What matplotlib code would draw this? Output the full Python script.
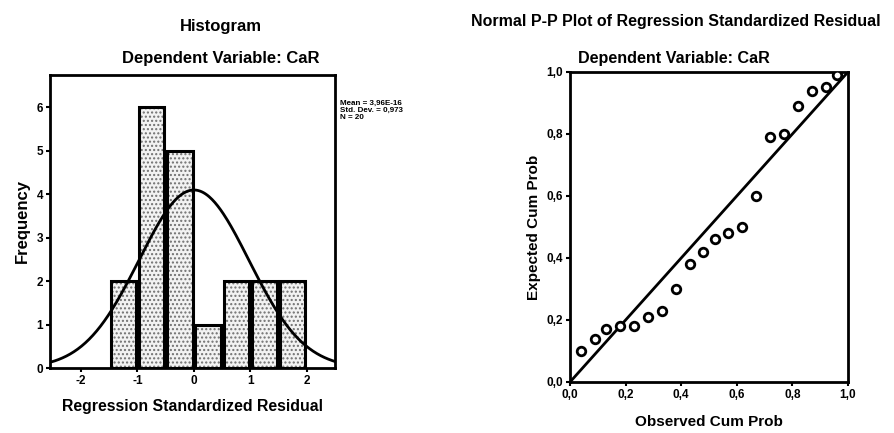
import numpy as np
import matplotlib
matplotlib.use('Agg')
import matplotlib.pyplot as plt

plt.rcParams['font.family'] = ['Liberation Sans', 'DejaVu Sans']
plt.rcParams['font.weight'] = 'bold'

# histogram data
bin_edges = [-1.5, -1.0, -0.5, 0.0, 0.5, 1.0, 1.5, 2.0]
counts = [2, 6, 5, 1, 2, 2, 2]
resid_mean = 3.96e-16
resid_sd = 0.973
n_obs = 20

# P-P plot data
observed_cum = [0.04, 0.09, 0.13, 0.18, 0.23, 0.28, 0.33, 0.38, 0.43, 0.48,
                0.52, 0.57, 0.62, 0.67, 0.72, 0.77, 0.82, 0.87, 0.92, 0.96]
expected_cum = [0.10, 0.14, 0.17, 0.18, 0.18, 0.21, 0.23, 0.30, 0.38, 0.42,
                0.46, 0.48, 0.50, 0.60, 0.79, 0.80, 0.89, 0.94, 0.95, 0.99]

hist_xticks = [-2, -1, 0, 1, 2]
hist_yticks = [0, 1, 2, 3, 4, 5, 6]
pp_ticks = [0.0, 0.2, 0.4, 0.6, 0.8, 1.0]

fig = plt.figure(figsize=(8.95, 4.33), dpi=100)

# --- Histogram ---
ax1 = fig.add_axes([0.0559, 0.150, 0.3184, 0.677])
edges = np.array(bin_edges)
widths = np.diff(edges)
centers = edges[:-1] + widths / 2
# speckled fill first, then the black outlines on top
ax1.bar(centers, counts, width=widths - 0.05, align='center', facecolor='#f2f2f2',
        edgecolor='#707070', linewidth=0, hatch='....')
ax1.bar(centers, counts, width=widths - 0.05, align='center', fill=False,
        edgecolor='black', linewidth=2.2)
xs = np.linspace(-2.55, 2.5, 300)
bw = widths[0]
curve = n_obs * bw / (resid_sd * np.sqrt(2 * np.pi)) * np.exp(-0.5 * ((xs - resid_mean) / resid_sd) ** 2)
ax1.plot(xs, curve, color='black', linewidth=2)
ax1.set_xlim(-2.55, 2.5)
ax1.set_ylim(0, 6.75)
ax1.set_xticks(hist_xticks)
ax1.set_xticklabels([str(t) for t in hist_xticks])
ax1.set_yticks(hist_yticks)
ax1.tick_params(labelsize=8.5, width=1.5, length=3, pad=2)
for s in ax1.spines.values():
    s.set_linewidth(2)
ax1.set_ylabel('Frequency', fontsize=12, fontweight='bold', labelpad=5)
ax1.set_xlabel('Regression Standardized Residual', fontsize=11.4, fontweight='bold', labelpad=9)
fig.text(0.247, 0.938, 'Histogram', ha='center', va='center', fontsize=12, fontweight='bold')
fig.text(0.247, 0.866, 'Dependent Variable: CaR', ha='center', va='center', fontsize=12, fontweight='bold')
fig.text(0.380, 0.770, 'Mean = 3,96E-16\nStd. Dev. = 0,973\nN = 20', ha='left', va='top',
         fontsize=5.8, fontweight='bold', linespacing=1.0)

# --- P-P plot ---
ax2 = fig.add_axes([0.6369, 0.1178, 0.3106, 0.716])
ax2.plot([0, 1], [0, 1], color='black', linewidth=2)
ax2.scatter(observed_cum, expected_cum, s=38, facecolors='white', edgecolors='black', linewidths=2, zorder=3)
ax2.set_xlim(0, 1)
ax2.set_ylim(0, 1)
ax2.set_xticks(pp_ticks)
ax2.set_yticks(pp_ticks)
lbls = [f'{t:.1f}'.replace('.', ',') for t in pp_ticks]
ax2.set_xticklabels(lbls)
ax2.set_yticklabels(lbls)
ax2.tick_params(labelsize=8.5, width=1.5, length=3, pad=2)
for s in ax2.spines.values():
    s.set_linewidth(2)
ax2.set_xlabel('Observed Cum Prob', fontsize=11, fontweight='bold', labelpad=10)
ax2.set_ylabel('Expected Cum Prob', fontsize=11, fontweight='bold', labelpad=4)
fig.text(0.755, 0.950, 'Normal P-P Plot of Regression Standardized Residual', ha='center', va='center',
         fontsize=11.5, fontweight='bold')
fig.text(0.753, 0.864, 'Dependent Variable: CaR', ha='center', va='center', fontsize=11.6, fontweight='bold')

fig.savefig('out.png', dpi=100)
